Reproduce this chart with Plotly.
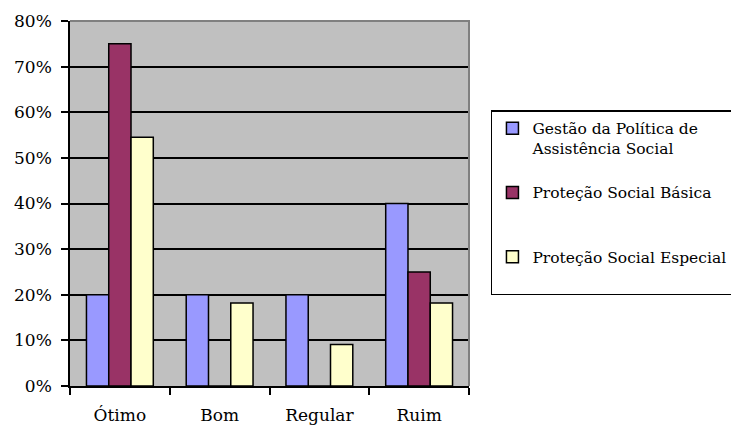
import plotly.graph_objects as go

categorias = ["Ótimo", "Bom", "Regular", "Ruim"]
series_nomes = [
    "Gestão da Política de<br>Assistência Social",
    "Proteção Social Básica<br> ",
    "Proteção Social Especial<br> ",
]
gestao = [0.20, 0.20, 0.20, 0.40]
basica = [0.75, 0.0, 0.0, 0.25]
especial = [0.545, 0.182, 0.091, 0.182]
cores = ["#9999FF", "#993366", "#FFFFCC"]

serif = "DejaVu Serif"

fig = go.Figure()
for i, (nome, vals) in enumerate(zip(series_nomes, [gestao, basica, especial])):
    fig.add_trace(go.Bar(
        x=categorias, y=vals, name=nome,
        legendgroup=str(i),
        marker=dict(color=cores[i], line=dict(color="black", width=1.5)),
    ))

fig.update_layout(
    width=731, height=420,
    margin=dict(l=62, r=270, t=13, b=42, autoexpand=False),
    paper_bgcolor="white",
    plot_bgcolor="#C0C0C0",
    barmode="group",
    bargap=0.33, bargroupgap=0,
    font=dict(family=serif, size=17, color="black"),
    legend=dict(
        x=1.055, y=0.756, xanchor="left", yanchor="top",
        bordercolor="black", borderwidth=1.5,
        font=dict(family=serif, size=15.5), tracegroupgap=21,
        bgcolor="white", valign="top",
    ),
)
fig.update_xaxes(
    showline=True, linecolor="black", linewidth=1.5,
    ticks="outside", tickcolor="black", ticklen=7, tickwidth=1.5,
    tickson="boundaries", ticklabelstandoff=13,
    showgrid=False,
)
fig.update_yaxes(
    range=[0, 0.8], dtick=0.1, tickformat=".0%",
    showline=True, linecolor="black", linewidth=1.5,
    ticks="outside", tickcolor="black", ticklen=7, tickwidth=1.5,
    ticklabelstandoff=6,
    gridcolor="black", gridwidth=1.5, zeroline=False,
)
# moldura cinza no topo e à direita
fig.add_shape(type="path", xref="paper", yref="paper",
              path="M 0,1 L 1,1 L 1,0",
              line=dict(color="#808080", width=2), layer="above")

fig.write_html("out.html")
